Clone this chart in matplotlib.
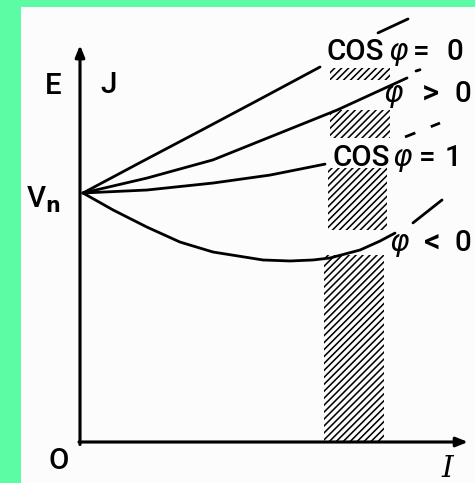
import matplotlib
matplotlib.use("Agg")
import matplotlib.pyplot as plt
from matplotlib.patches import Rectangle

# External characteristic of an alternator: terminal voltage E vs load current I
# for different power factors. E is expressed relative to the no-load voltage Vn.

# cos(phi) = 0 (pure inductive) curve
I_cos0 = [0.03, 0.60, 1.20, 1.80, 2.40]
E_cos0 = [1.000, 1.122, 1.249, 1.377, 1.506]
I_cos0_ext = [2.98, 3.28]
E_cos0_ext = [1.643, 1.699]

# phi > 0 curve
I_phipos = [0.03, 0.67, 1.33, 2.00, 2.57, 3.27]
E_phipos = [1.000, 1.060, 1.133, 1.241, 1.333, 1.462]
I_phipos_ext = [3.36, 3.40]
E_phipos_ext = [1.490, 1.495]

# cos(phi) = 1 curve
I_cos1 = [0.03, 0.67, 1.33, 1.90, 2.20, 2.45]
E_cos1 = [1.000, 1.012, 1.040, 1.072, 1.096, 1.116]
I_cos1_ext = [3.25, 3.60]
E_cos1_ext = [1.225, 1.281]

# phi < 0 curve
I_phineg = [0.03, 0.33, 0.67, 1.00, 1.33, 1.83, 2.10, 2.33, 2.50, 2.80, 3.00, 3.15]
E_phineg = [1.000, 0.932, 0.863, 0.803, 0.763, 0.731, 0.727, 0.731, 0.739, 0.771, 0.807, 0.839]
I_phineg_ext = [3.33, 3.62]
E_phineg_ext = [0.880, 0.972]

# Rated-current band, split around the curve labels
band_I_lo = [2.50, 2.50, 2.48, 2.44]
band_I_hi = [3.10, 3.10, 3.07, 3.04]
band_E_lo = [1.454, 1.221, 0.851, 0.000]
band_E_hi = [1.502, 1.333, 1.100, 0.751]

axis_I_max = 3.88
axis_E_max = 1.594

W, H, DPI = 475, 483, 125
plt.rcParams["hatch.linewidth"] = 0.9
plt.rcParams["font.family"] = ["Roboto", "DejaVu Sans"]
plt.rcParams["mathtext.fontset"] = "dejavusans"

fig = plt.figure(figsize=(W / DPI, H / DPI), dpi=DPI, facecolor="#5bfca3")
fig.patches.append(Rectangle((21 / W, 0), 1, (H - 7) / H, transform=fig.transFigure,
                             facecolor="#fcfcfc", edgecolor="none", zorder=-5))

ax = fig.add_axes([0, 0, 1, 1], zorder=2)
ax.set_facecolor("none")
ax.set_xlim(-0.80, 3.95)
ax.set_ylim(-41 / 249, 442 / 249)
ax.axis("off")

# hatched band
for x0, x1, y0, y1 in zip(band_I_lo, band_I_hi, band_E_lo, band_E_hi):
    ax.add_patch(Rectangle((x0, y0), x1 - x0, y1 - y0, facecolor="none",
                           edgecolor="black", linewidth=0, hatch="//////", zorder=1))

lw = 1.6
for xs, ys in [(I_cos0, E_cos0), (I_phipos, E_phipos), (I_cos1, E_cos1), (I_phineg, E_phineg)]:
    ax.plot(xs, ys, color="black", lw=lw, solid_capstyle="round", zorder=3)

ax.plot(I_cos0_ext, E_cos0_ext, color="black", lw=lw, solid_capstyle="round", zorder=3)
ax.plot(I_phipos_ext, E_phipos_ext, color="black", lw=lw, solid_capstyle="round", zorder=3)
ax.plot(I_cos1_ext, E_cos1_ext, color="black", lw=lw, dashes=(4, 6), zorder=3)
ax.plot(I_phineg_ext, E_phineg_ext, color="black", lw=lw, solid_capstyle="round", zorder=3)

# axes with arrows
arrow = dict(arrowstyle="-|>,head_length=0.55,head_width=0.22", lw=1.8, color="black",
             shrinkA=0, shrinkB=0)
ax.annotate("", xy=(0, axis_E_max), xytext=(0, -0.01), arrowprops=arrow)
ax.annotate("", xy=(axis_I_max, 0), xytext=(-0.01, 0), arrowprops=arrow)


def label(px, py, s, size=17, **kw):
    kw.setdefault("fontweight", "medium")
    fig.text(px / W, 1 - py / H, s, va="center", ha="left", fontsize=size, **kw)


def phi(px, py):
    label(px, py, r"$\varphi$", size=17)


label(45, 86, "E")
label(100, 85, "J")
label(26, 200, r"V$_\mathbf{n}$")
label(49, 461, "O")
label(441, 469, "I", family="DejaVu Serif", style="italic")

label(327, 52, "COS")
phi(388, 54)
label(413, 52, "=")
label(446, 52, "0")

phi(383, 96)
label(422, 94, ">", size=19)
label(454, 94, "0")

label(332, 158, "COS")
phi(392, 160)
label(419, 158, "=")
label(445, 158, "1")

phi(389, 245)
label(424, 243, "<", size=19)
label(455, 243, "0")

fig.savefig("out.png", dpi=DPI, facecolor=fig.get_facecolor())
